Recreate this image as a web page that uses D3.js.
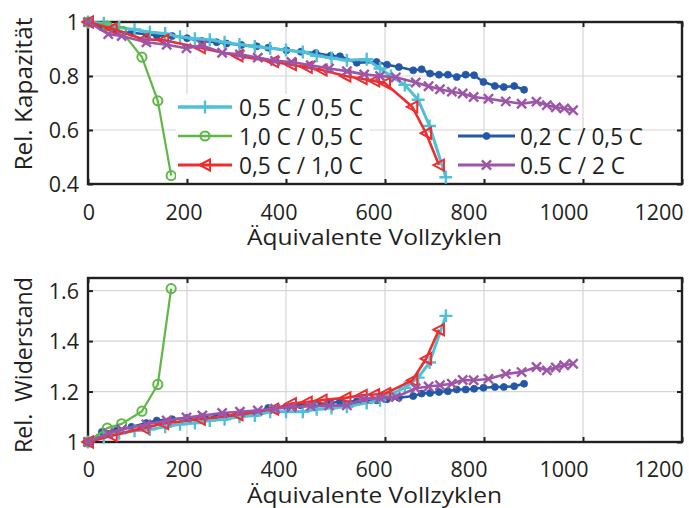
<!DOCTYPE html>
<html>
<head>
<meta charset="utf-8">
<script src="https://cdn.jsdelivr.net/npm/d3@7"></script>
<style>
  body { margin: 0; background: #fff; }
  text { font-family: "Open Sans", "Noto Sans", sans-serif; fill: #231f20; }
</style>
</head>
<body>
<svg id="chart" width="689" height="508"></svg>
<script>
// Axis ticks
const cycleTicks = [0, 200, 400, 600, 800, 1000, 1200];
const capacityTicks = [0.4, 0.6, 0.8, 1];
const resistanceTicks = [1, 1.2, 1.4, 1.6];

// Legend labels
const labels = ["0,5 C / 0,5 C", "1,0 C / 0,5 C", "0,5 C / 1,0 C", "0,2 C / 0,5 C", "0.5 C / 2 C"];

// 0,5 C / 0,5 C
const cycles05_05 = [0, 32, 63, 94, 125, 156, 186, 216, 246, 276, 306, 337, 368, 400, 434, 462, 492, 523, 563, 590, 612, 640, 667, 690, 723];
const capacity05_05 = [1.0, 0.995, 0.98, 0.972, 0.962, 0.957, 0.945, 0.938, 0.934, 0.925, 0.917, 0.909, 0.903, 0.896, 0.889, 0.875, 0.867, 0.858, 0.862, 0.828, 0.80, 0.767, 0.712, 0.615, 0.425];
const resistance05_05 = [1.0, 1.02, 1.035, 1.045, 1.05, 1.06, 1.07, 1.075, 1.085, 1.09, 1.10, 1.105, 1.12, 1.12, 1.12, 1.13, 1.135, 1.14, 1.155, 1.165, 1.19, 1.215, 1.255, 1.315, 1.50];

// 1,0 C / 0,5 C
const cycles10_05 = [0, 39, 68, 109, 141, 168];
const capacity10_05 = [1.0, 0.985, 0.965, 0.870, 0.708, 0.431];
const resistance10_05 = [1.0, 1.055, 1.072, 1.122, 1.228, 1.608];

// 0,5 C / 1,0 C
const cycles05_10 = [0, 48, 112, 152, 226, 302, 374, 410, 442, 472, 520, 553, 578, 600, 655, 683, 709];
const capacity05_10 = [1.0, 0.975, 0.936, 0.933, 0.905, 0.875, 0.853, 0.842, 0.832, 0.822, 0.80, 0.79, 0.782, 0.773, 0.686, 0.588, 0.47];
const resistance05_10 = [1.0, 1.025, 1.055, 1.073, 1.09, 1.108, 1.13, 1.152, 1.158, 1.166, 1.175, 1.185, 1.188, 1.192, 1.244, 1.33, 1.445];

// 0,2 C / 0,5 C
const cycles02_05 = [0, 28, 58, 88, 118, 139, 170, 200, 230, 260, 280, 310, 341, 364, 401, 430, 460, 490, 509, 543, 583, 604, 628, 657, 674, 691, 709, 727, 745, 763, 780, 799, 822, 840, 861, 881];
const capacity02_05 = [1.0, 0.98, 0.965, 0.96, 0.955, 0.95, 0.948, 0.94, 0.93, 0.925, 0.92, 0.915, 0.91, 0.905, 0.895, 0.89, 0.885, 0.875, 0.873, 0.849, 0.852, 0.842, 0.833, 0.821, 0.825, 0.809, 0.805, 0.805, 0.796, 0.805, 0.803, 0.778, 0.763, 0.759, 0.763, 0.749];
const resistance02_05 = [1.0, 1.04, 1.046, 1.06, 1.075, 1.085, 1.09, 1.095, 1.10, 1.10, 1.10, 1.11, 1.115, 1.135, 1.14, 1.145, 1.15, 1.155, 1.16, 1.162, 1.165, 1.169, 1.175, 1.182, 1.192, 1.194, 1.198, 1.201, 1.208, 1.208, 1.211, 1.215, 1.218, 1.218, 1.221, 1.231];

// 0.5 C / 2 C
const cycles05_2 = [0, 41, 68, 118, 159, 199, 231, 271, 307, 343, 378, 411, 450, 487, 523, 558, 590, 622, 662, 688, 711, 735, 757, 779, 809, 844, 876, 906, 927, 945, 962, 980];
const capacity05_2 = [1.0, 0.955, 0.948, 0.925, 0.916, 0.903, 0.913, 0.886, 0.880, 0.868, 0.856, 0.852, 0.840, 0.828, 0.818, 0.806, 0.800, 0.795, 0.776, 0.762, 0.751, 0.742, 0.735, 0.722, 0.716, 0.706, 0.697, 0.705, 0.692, 0.684, 0.680, 0.673];
const resistance05_2 = [1.0, 1.035, 1.05, 1.07, 1.085, 1.097, 1.105, 1.115, 1.12, 1.125, 1.132, 1.138, 1.142, 1.144, 1.145, 1.172, 1.175, 1.178, 1.213, 1.22, 1.225, 1.231, 1.246, 1.245, 1.25, 1.27, 1.277, 1.297, 1.284, 1.295, 1.304, 1.31];

const zip = (xs, ys) => xs.map((x, i) => [x, ys[i]]);

// Series in drawing order (later ones on top)
const series = [
  { label: labels[3], color: "#2458a6", marker: "dot",      width: 2.5, cap: zip(cycles02_05, capacity02_05), res: zip(cycles02_05, resistance02_05) },
  { label: labels[0], color: "#4fc0d8", marker: "plus",     width: 3,   cap: zip(cycles05_05, capacity05_05), res: zip(cycles05_05, resistance05_05) },
  { label: labels[1], color: "#5db845", marker: "circle",   width: 2.2, cap: zip(cycles10_05, capacity10_05), res: zip(cycles10_05, resistance10_05) },
  { label: labels[2], color: "#ee2d2d", marker: "triangle", width: 2.6, cap: zip(cycles05_10, capacity05_10), res: zip(cycles05_10, resistance05_10) },
  { label: labels[4], color: "#9d55a8", marker: "times",    width: 2.6, cap: zip(cycles05_2, capacity05_2),   res: zip(cycles05_2, resistance05_2) }
];
const byLabel = l => series.find(s => s.label === l);

const svg = d3.select("#chart");
const X0 = 88, X1 = 682;

function fitWidth(sel, w) {
  sel.attr("textLength", w).attr("lengthAdjust", "spacingAndGlyphs");
}

function markerPath(type) {
  switch (type) {
    case "plus": return "M-6.5,0H6.5M0,-6.5V6.5";
    case "times": return "M-4.6,-4.6L4.6,4.6M-4.6,4.6L4.6,-4.6";
    case "triangle": return "M-5.5,0L5,-5.5L5,5.5Z";
    default: return null;
  }
}

function drawMarkers(g, pts, s) {
  if (s.marker === "dot") {
    g.selectAll(null).data(pts).join("circle")
      .attr("cx", d => d[0]).attr("cy", d => d[1]).attr("r", 3.5)
      .attr("fill", s.color).attr("stroke", s.color).attr("stroke-width", 0.8);
  } else if (s.marker === "circle") {
    g.selectAll(null).data(pts).join("circle")
      .attr("cx", d => d[0]).attr("cy", d => d[1]).attr("r", 4.6)
      .attr("fill", "none").attr("stroke", s.color).attr("stroke-width", 2);
  } else {
    g.selectAll(null).data(pts).join("path")
      .attr("transform", d => `translate(${d[0]},${d[1]})`)
      .attr("d", markerPath(s.marker))
      .attr("fill", "none").attr("stroke", s.color)
      .attr("stroke-width", s.marker === "triangle" ? 2 : 2.4)
      .attr("stroke-linejoin", "miter");
  }
}

function panel(top, bottom, domain, ticks, key, yTitle, yTitleCenter, yTitleLen, xTickY, xTitleY) {
  const x = d3.scaleLinear().domain([0, 1200]).range([X0, X1]);
  // tick labels sit on a slightly tighter spacing than the tick marks
  const xLabel = d3.scaleLinear().domain([0, 1200]).range([89, 659]);
  const y = d3.scaleLinear().domain(domain).range([bottom, top]);
  const g = svg.append("g");

  // grid
  g.append("g").selectAll("line").data(cycleTicks.slice(1, -1)).join("line")
    .attr("x1", d => x(d)).attr("x2", d => x(d)).attr("y1", top).attr("y2", bottom)
    .attr("stroke", "#d6d6d6").attr("stroke-width", 1.2);
  g.append("g").selectAll("line").data(ticks.filter(t => y(t) > top + 1 && y(t) < bottom - 1)).join("line")
    .attr("x1", X0).attr("x2", X1).attr("y1", d => y(d)).attr("y2", d => y(d))
    .attr("stroke", "#d6d6d6").attr("stroke-width", 1.2);

  // axes with inward ticks on all four sides
  const tl = 5;
  const ax = g.append("g");
  ax.append("g").attr("transform", `translate(0,${bottom})`)
    .call(d3.axisBottom(x).tickValues(cycleTicks).tickSize(-tl).tickFormat(""));
  ax.append("g").attr("transform", `translate(0,${top})`)
    .call(d3.axisTop(x).tickValues(cycleTicks).tickSize(-tl).tickFormat(""));
  ax.append("g").attr("transform", `translate(${X0},0)`)
    .call(d3.axisLeft(y).tickValues(ticks).tickSize(-tl).tickFormat(""));
  ax.append("g").attr("transform", `translate(${X1},0)`)
    .call(d3.axisRight(y).tickValues(ticks).tickSize(-tl).tickFormat(""));
  ax.selectAll(".domain").remove();
  ax.selectAll("line").attr("stroke", "#231f20").attr("stroke-width", 2);
  g.append("rect").attr("x", X0).attr("y", top).attr("width", X1 - X0).attr("height", bottom - top)
    .attr("fill", "none").attr("stroke", "#231f20").attr("stroke-width", 2.4);

  // tick labels
  g.append("g").selectAll("text").data(cycleTicks).join("text")
    .attr("x", d => xLabel(d)).attr("y", xTickY).attr("text-anchor", "middle")
    .attr("font-size", 21.5).text(d => String(d));
  g.append("g").selectAll("text").data(ticks).join("text")
    .attr("x", X0 - 9).attr("y", d => y(d) + 8).attr("text-anchor", "end")
    .attr("font-size", 21.5).text(d => String(d));

  // titles
  fitWidth(g.append("text").attr("x", 374.5).attr("y", xTitleY).attr("text-anchor", "middle")
    .attr("font-size", 22).text("Äquivalente Vollzyklen"), 255);
  fitWidth(g.append("text").attr("transform", `translate(32,${yTitleCenter}) rotate(-90)`)
    .attr("text-anchor", "middle").attr("font-size", 23).style("white-space", "pre")
    .text(yTitle), yTitleLen);

  // series
  const line = d3.line().x(d => x(d[0])).y(d => y(d[1]));
  series.forEach(s => {
    const sg = g.append("g");
    sg.append("path").datum(s[key]).attr("d", line)
      .attr("fill", "none").attr("stroke", s.color).attr("stroke-width", s.width)
      .attr("stroke-linejoin", "round");
    drawMarkers(sg, s[key].map(d => [x(d[0]), y(d[1])]), s);
  });
  return { x, y, g };
}

panel(22, 184, [0.4, 1], capacityTicks, "cap", "Rel. Kapazität", 94, 153, 219.5, 245);
panel(278, 442, [1, 1.65], resistanceTicks, "res", "Rel.  Widerstand", 365, 176, 477, 503);

// legends
function legend(entries, box, x1, x2, tx, rows, widths) {
  const g = svg.append("g");
  g.append("rect").attr("x", box[0]).attr("y", box[1]).attr("width", box[2]).attr("height", box[3]).attr("fill", "#fff");
  entries.forEach((lab, i) => {
    const s = byLabel(lab);
    const yy = rows[i];
    g.append("line").attr("x1", x1).attr("x2", x2).attr("y1", yy).attr("y2", yy)
      .attr("stroke", s.color).attr("stroke-width", s.width + 0.5);
    drawMarkers(g, [[(x1 + x2) / 2, yy]], s);
    fitWidth(g.append("text").attr("x", tx).attr("y", yy + 8.5).attr("font-size", 24).text(lab), widths[i]);
  });
}
legend([labels[0], labels[1], labels[2]], [176, 94, 194, 84], 178, 232, 239, [107, 136, 165], [124, 124, 124]);
legend([labels[3], labels[4]], [452, 131, 198, 48], 458, 515, 520, [136, 165], [123, 105]);
</script>
</body>
</html>
